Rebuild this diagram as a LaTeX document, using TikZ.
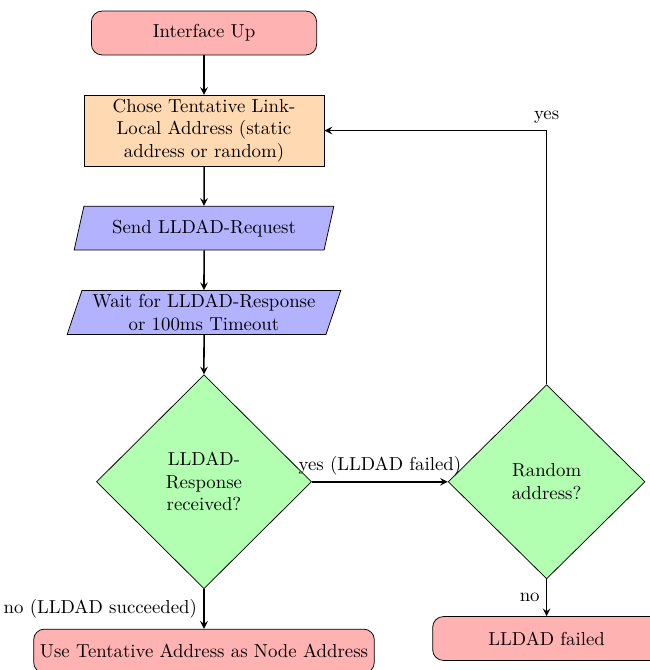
\documentclass[tikz,border=0pt]{standalone}
\usepackage{tikz}
\usetikzlibrary{positioning}
\usetikzlibrary{shapes.geometric}

\begin{document}
\begin{tikzpicture}[node distance=0.74cm,
startstop/.style={rectangle, rounded corners=0.2cm, minimum height=0.82cm, draw, fill=red!30, align=center},
process/.style={rectangle, draw, fill=orange!30, align=center, inner ysep=2pt, minimum width=4.49cm},
io/.style={trapezium, trapezium left angle=72, trapezium right angle=108, trapezium stretches=true, draw, fill=blue!30, align=center, inner ysep=2pt, minimum height=0.82cm},
decision/.style={diamond, aspect=1, draw, fill=green!30, align=center},
arrow/.style={thick,->,>=stealth}]
\useasboundingbox (-3.813,0.617) rectangle (8.336,-11.906);

\node[startstop, minimum width=4.21cm] (up) {Interface Up};
\node[process, below=of up] (chose) {Chose Tentative Link-\\Local Address (static\\address or random)};
\node[io, below=of chose, minimum width=4.86cm] (send) {Send LLDAD-Request};
\node[io, below=of send, minimum width=5.12cm] (wait) {Wait for LLDAD-Response\\or 100ms Timeout};
\node[decision, below=of wait, minimum width=4.02cm, minimum height=4cm] (resp) {LLDAD-\\Response\\received?};
\node[startstop, below=of resp, minimum width=6.2cm] (use) {Use Tentative Address as Node Address};
\node[decision, right=2.54cm of resp, minimum width=3.68cm, minimum height=3.63cm] (rand) {Random\\address?};
\node[startstop, below=0.69cm of rand, minimum width=4.26cm] (fail) {LLDAD failed};

\draw[arrow] (up) -- (chose);
\draw[arrow] (chose) -- (send);
\draw[arrow] (send) -- (wait);
\draw[arrow] (wait) -- (resp);
\draw[arrow] (resp) -- node[above] {yes (LLDAD failed)} (rand);
\draw[arrow] (resp) -- node[left] {no (LLDAD succeeded)} (use);
\draw[arrow] (rand) -- node[left] {no} (fail);
\draw[arrow] (rand) |- node[pos=0.5, above] {yes} (chose);
\end{tikzpicture}
\end{document}
